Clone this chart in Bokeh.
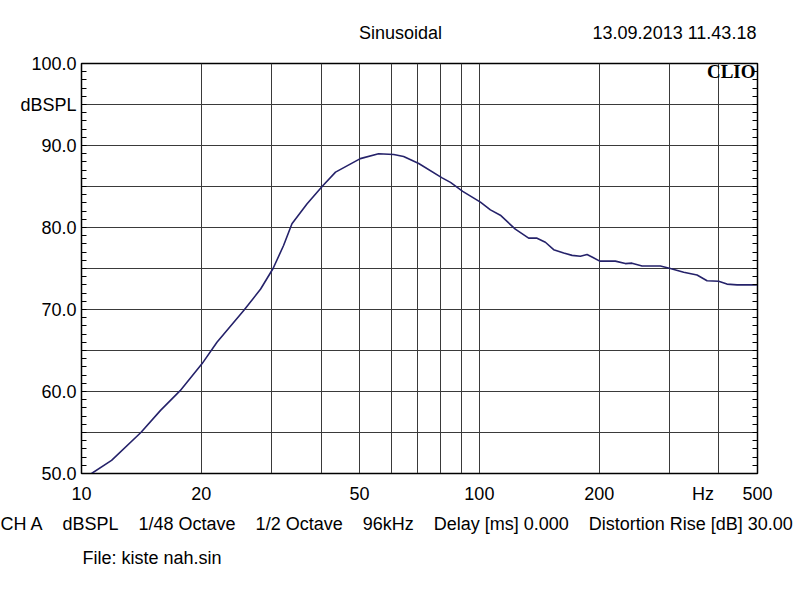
import math
from bokeh.plotting import figure
from bokeh.models import FixedTicker, Label, LinearAxis, LinearScale, Range1d, Title
from bokeh.embed import file_html
from bokeh.resources import INLINE

# ---- data ----
freq = [10.6, 11.9, 14.1, 15.8, 17.7, 20.1, 21.9, 25.6, 28.2, 30.3, 32.2, 33.8, 36.9,
        40.4, 43.5, 50.2, 55.8, 60.9, 64.5, 70.4, 80.6, 84.6, 90.8, 100.6, 106.6, 112.9,
        123.1, 133.0, 139.6, 146.5, 153.7, 162.9, 171.0, 179.4, 186.5, 191.9, 200.7,
        219.6, 232.7, 241.8, 256.4, 285.0, 302.0, 326.2, 352.4, 373.4, 399.4, 419.0,
        444.2, 500.0]
spl = [50.0, 51.6, 55.0, 57.7, 60.1, 63.4, 66.0, 69.9, 72.5, 75.0, 77.8, 80.45, 82.9,
       85.1, 86.75, 88.4, 89.0, 88.9, 88.65, 87.8, 86.05, 85.5, 84.4, 83.1, 82.15, 81.5,
       79.8, 78.7, 78.7, 78.2, 77.3, 76.9, 76.6, 76.5, 76.7, 76.4, 75.9,
       75.9, 75.6, 75.65, 75.3, 75.3, 75.0, 74.55, 74.2, 73.5, 73.45, 73.1,
       73.0, 73.0]

x_tick_values = [10, 20, 50, 100, 200, 365, 500]
x_tick_labels = ["10", "20", "50", "100", "200", "Hz", "500"]
x_grid = [20, 30, 40, 50, 60, 70, 80, 90, 100, 200, 300, 400]
y_tick_values = [50, 60, 70, 80, 90, 95, 100]
y_tick_labels = ["50.0", "60.0", "70.0", "80.0", "90.0", "dBSPL", "100.0"]

title_text = "Sinusoidal"
date_text = "13.09.2013 11.43.18"
info_items = ["CH A", "dBSPL", "1/48 Octave", "1/2 Octave", "96kHz",
              "Delay [ms] 0.000", "Distortion Rise [dB] 30.00"]
file_text = "File: kiste nah.sin"

# ---- layout ----
W, H = 800, 598
L, R, T, B = 81, 757, 63, 473
XMIN, XMAX, YMIN, YMAX = 10, 500, 50, 100
FONT = "Liberation Sans"
FS = "18px"

p = figure(width=W, height=H, x_axis_type="log", x_range=(XMIN, XMAX), y_range=(YMIN, YMAX),
           output_backend="svg", toolbar_location=None,
           min_border_left=L, min_border_right=W - R, min_border_top=T, min_border_bottom=H - B)
p.background_fill_color = "white"
p.border_fill_color = "white"
p.outline_line_color = "black"
p.outline_line_width = 1.5


def style_text(ax):
    ax.major_label_text_font = FONT
    ax.major_label_text_font_size = FS
    ax.major_label_text_color = "black"


# x axis
xa = p.xaxis[0]
xa.ticker = FixedTicker(ticks=x_tick_values, minor_ticks=[])
xa.major_label_overrides = {v: t for v, t in zip(x_tick_values, x_tick_labels)}
xa.major_tick_in = 0
xa.major_tick_out = 0
xa.minor_tick_in = 0
xa.minor_tick_out = 0
xa.axis_line_color = "black"
xa.major_label_standoff = 10
style_text(xa)

# y axis
ya = p.yaxis[0]
ya.ticker = FixedTicker(ticks=y_tick_values, minor_ticks=list(range(51, 100)))
ya.major_label_overrides = {v: t for v, t in zip(y_tick_values, y_tick_labels)}
ya.major_tick_in = 0
ya.major_tick_out = 0
ya.minor_tick_in = 5
ya.minor_tick_out = 0
ya.minor_tick_line_color = "black"
ya.minor_tick_line_width = 1
ya.axis_line_color = "black"
ya.major_label_standoff = 5
style_text(ya)

# right axis: minor ticks only
ra = LinearAxis(ticker=FixedTicker(ticks=[50, 100], minor_ticks=list(range(51, 100))))
ra.major_label_text_font_size = "0px"
ra.major_label_text_color = None
ra.major_tick_in = 0
ra.major_tick_out = 0
ra.minor_tick_in = 5
ra.minor_tick_out = 0
ra.minor_tick_line_color = "black"
ra.axis_line_color = "black"
p.add_layout(ra, "right")

# header row: an axis above on a linear helper range spanning the frame
p.extra_x_ranges = {"hdr": Range1d(L, R)}
p.extra_x_scales = {"hdr": LinearScale()}
header_pos = [400, 674]
ha = LinearAxis(x_range_name="hdr", ticker=FixedTicker(ticks=header_pos, minor_ticks=[]))
ha.major_label_overrides = {header_pos[0]: title_text, header_pos[1]: date_text}
ha.axis_line_color = None
ha.major_tick_in = 0
ha.major_tick_out = 0
ha.minor_tick_in = 0
ha.minor_tick_out = 0
ha.major_label_standoff = 21
style_text(ha)
p.add_layout(ha, "above")

# grids
p.xgrid.ticker = FixedTicker(ticks=x_grid, minor_ticks=[])
p.ygrid.ticker = FixedTicker(ticks=list(range(55, 100, 5)), minor_ticks=[])
for g in (p.xgrid[0], p.ygrid[0]):
    g.grid_line_color = "#3a3a3a"
    g.grid_line_width = 1
    g.grid_line_alpha = 1.0

# curve
p.line(freq, spl, line_color="#25226a", line_width=1.6)

# CLIO logo inside the frame
p.add_layout(Label(x=XMAX, y=YMAX, text="CLIO", x_offset=-2, y_offset=-8,
                   text_align="right", text_baseline="middle",
                   text_font="Liberation Serif", text_font_size="19px",
                   text_font_style="bold", text_color="black"))

# footer rows as titles below the plot
NB = "\u00a0"
gap = NB * 4
info_line = gap.join(info_items)
t1 = Title(text=info_line, align="left", offset=-L, text_font=FONT, text_font_size=FS,
           text_font_style="normal", text_color="black", standoff=11)
t2 = Title(text=file_text, align="left", offset=1, text_font=FONT, text_font_size=FS,
           text_font_style="normal", text_color="black", standoff=13)
p.add_layout(t1, "below")
p.add_layout(t2, "below")

open("out.html", "w").write(file_html(p, INLINE))
